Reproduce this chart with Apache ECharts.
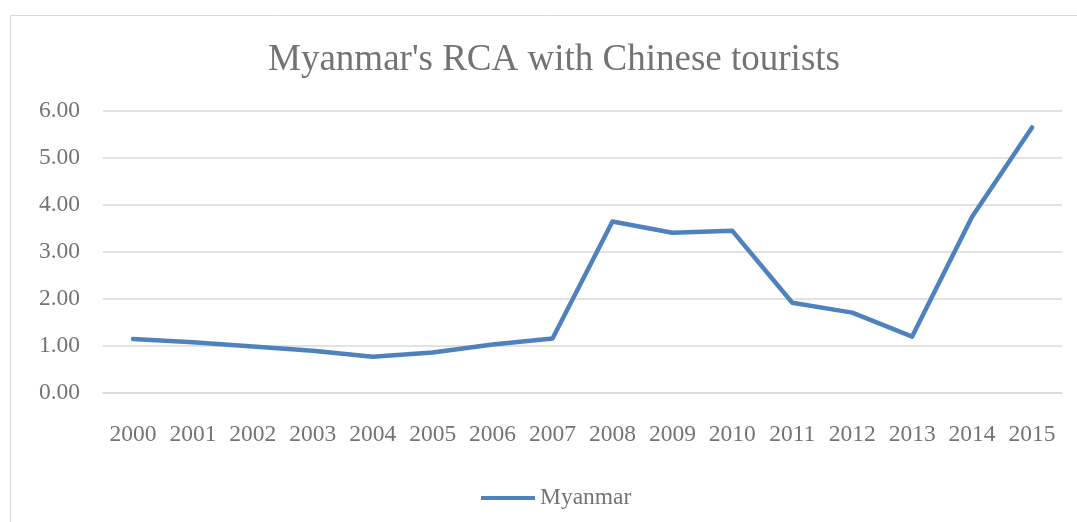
<!DOCTYPE html>
<html>
<head>
<meta charset="utf-8">
<script src="https://cdn.jsdelivr.net/npm/echarts@6/dist/echarts.min.js"></script>
<style>
  html, body { margin: 0; padding: 0; background: #fff; }
</style>
</head>
<body>
<div id="rcaChart" style="width:1077px;height:522px;"></div>
<script>
  var years = ['2000','2001','2002','2003','2004','2005','2006','2007','2008','2009','2010','2011','2012','2013','2014','2015'];
  var myanmarRca = [1.15, 1.08, 0.99, 0.90, 0.77, 0.86, 1.03, 1.16, 3.65, 3.41, 3.45, 1.92, 1.71, 1.20, 3.75, 5.65];
  var yTicks = [0, 1, 2, 3, 4, 5, 6];

  var textColor = '#737373';
  var font = 'Liberation Serif';

  var option = {
    animation: false,
    graphic: [{
      type: 'rect',
      shape: {x: 10.5, y: 15.5, width: 1100, height: 600},
      style: {fill: 'none', stroke: '#D9D9D9', lineWidth: 1}
    }],
    title: {
      text: "Myanmar's RCA with Chinese tourists",
      left: 549,
      textAlign: 'center',
      top: 37,
      textStyle: {fontFamily: font, fontSize: 37, fontWeight: 'normal', color: textColor}
    },
    legend: {
      data: ['Myanmar'],
      left: 476,
      top: 481,
      icon: 'rect',
      itemWidth: 54,
      itemHeight: 4,
      itemGap: 8,
      textStyle: {fontFamily: font, fontSize: 23.5, color: textColor}
    },
    grid: {left: 103, right: 15, top: 111, bottom: 129},
    xAxis: {
      type: 'category',
      data: years,
      boundaryGap: true,
      axisLine: {lineStyle: {color: '#D9D9D9', width: 1.5}},
      axisTick: {show: false},
      axisLabel: {fontFamily: font, fontSize: 23.5, color: textColor, margin: 30, interval: 0}
    },
    yAxis: {
      type: 'value',
      min: yTicks[0],
      max: yTicks[yTicks.length - 1],
      interval: 1,
      axisLine: {show: false},
      axisTick: {show: false},
      splitLine: {lineStyle: {color: '#D9D9D9', width: 1.5}},
      axisLabel: {
        fontFamily: font, fontSize: 23.5, color: textColor, margin: 23,
        formatter: function (v) { return v.toFixed(2); }
      }
    },
    series: [{
      name: 'Myanmar',
      type: 'line',
      data: myanmarRca,
      symbol: 'none',
      lineStyle: {color: '#4F81BD', width: 4.5, cap: 'round', join: 'round'},
      itemStyle: {color: '#4F81BD'}
    }]
  };

  var rcaChart = echarts.init(document.getElementById('rcaChart'));
  rcaChart.setOption(option);
</script>
</body>
</html>
